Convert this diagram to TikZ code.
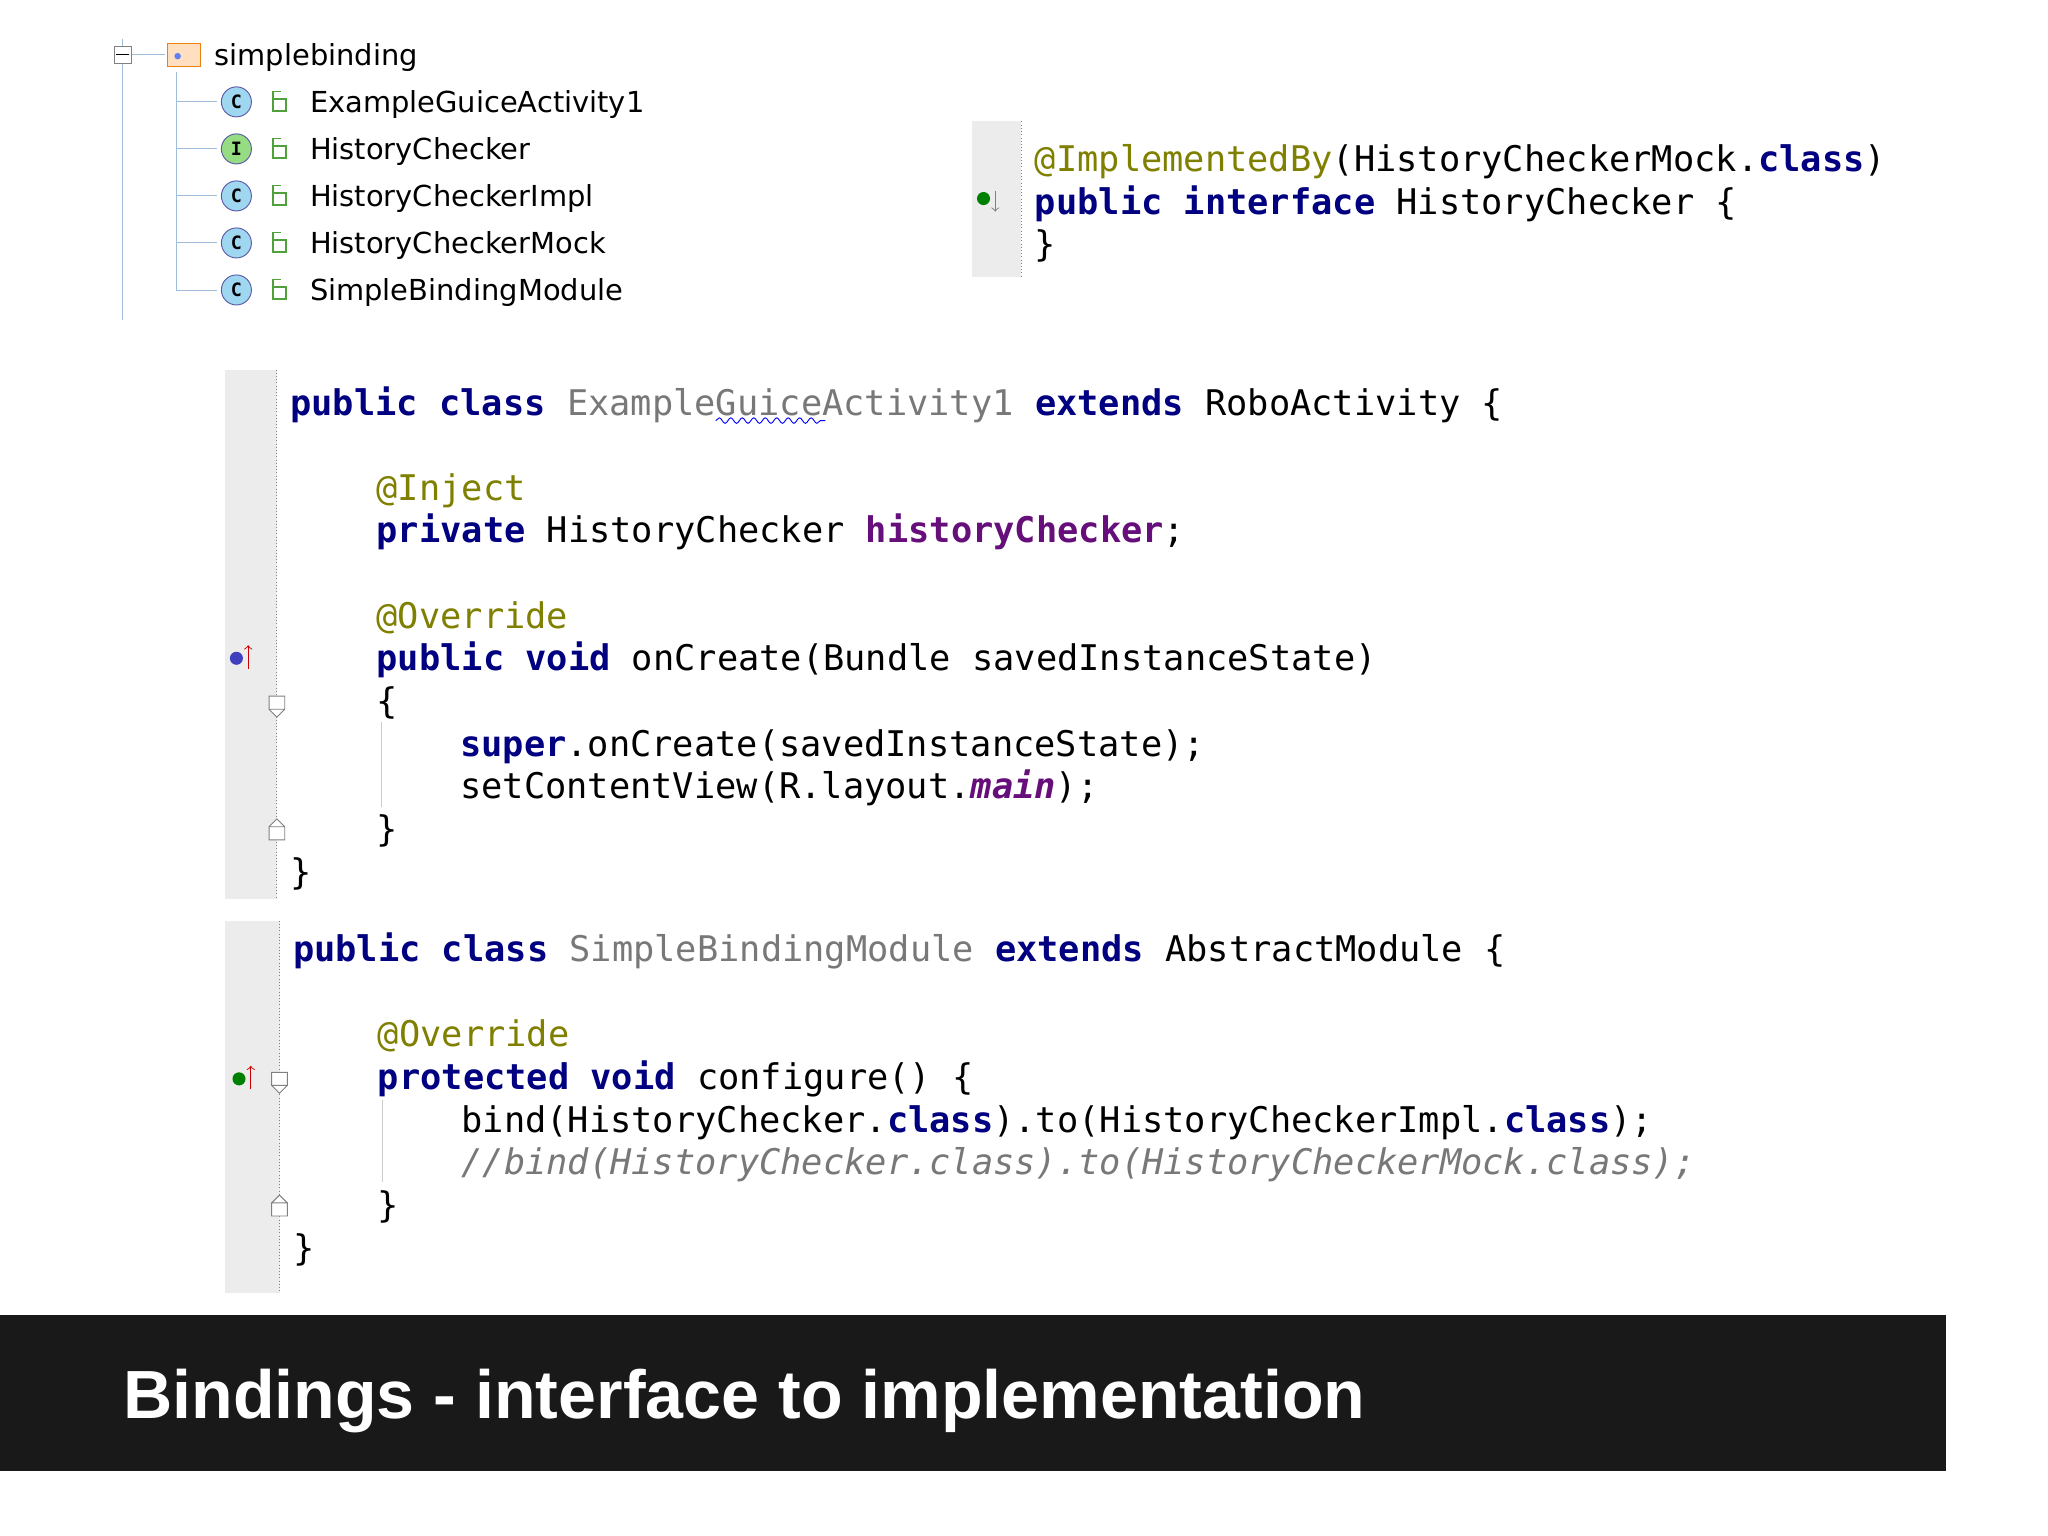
\documentclass[tikz,border=0pt]{standalone}
\usepackage{fontspec}
\setmainfont{DejaVu Sans}
\setmonofont{DejaVu Sans Mono}
\newfontfamily\titlefont{Liberation Sans}
\usetikzlibrary{decorations.pathmorphing}
\definecolor{kw}{RGB}{0,0,128}
\definecolor{ann}{RGB}{128,128,0}
\definecolor{cls}{RGB}{120,120,120}
\definecolor{fld}{RGB}{102,14,122}
\definecolor{gut}{RGB}{236,236,236}
\definecolor{cblue}{RGB}{160,215,240}
\definecolor{igreen}{RGB}{150,220,130}
\definecolor{lockg}{RGB}{80,160,60}
\definecolor{treel}{RGB}{160,190,220}
\newcommand{\K}[1]{\textcolor{kw}{\bfseries #1}}
\newcommand{\A}[1]{\textcolor{ann}{#1}}
\tikzset{
 code/.style={anchor=base west,inner sep=0,font=\fontsize{15.4}{18}\ttfamily},
 tree/.style={anchor=base west,inner sep=0,font=\fontsize{12.6}{15}\selectfont},
 gutter/.style={fill=gut,draw=none},
 ico/.style={circle,draw=gray!70!blue,fill=cblue,minimum size=0.46cm,inner sep=0,font=\fontsize{8}{9}\bfseries\ttfamily},
 fold/.style={draw=gray,fill=white,thin}
}
\begin{document}
\begin{tikzpicture}[x=0.02cm,y=-0.02cm]
\useasboundingbox (0,0) rectangle (1568,1176);
\fill[white] (0,0) rectangle (1568,1176);
% tree
\draw[treel] (94,30) -- (94,245) (135,55) -- (135,222);
\node[draw=gray,fill=white,minimum size=0.26cm,inner sep=0] (minus) at (94,42) {};
\draw (89,42) -- (99,42);
\draw[treel] (minus.east) -- (126,42);
\node[draw=orange!70!brown,fill=orange!25,minimum width=0.5cm,minimum height=0.36cm,inner sep=0] (fold0) at (141,42) {};
\fill[cblue!60!blue] (136,43) circle (2.5);
\node[tree] (t0) at (164,50) {simplebinding};
\foreach \y/\l/\n/\c in {78/C/ExampleGuiceActivity1/cblue,114/I/HistoryChecker/igreen,150/C/HistoryCheckerImpl/cblue,186/C/HistoryCheckerMock/cblue,222/C/SimpleBindingModule/cblue}{
 \draw[treel] (135,\y) -- (166,\y);
 \node[ico,fill=\c] at (181,\y) {\l};
 \draw[lockg,thick] (209,\y-2) rectangle (219,\y+7);
 \draw[lockg,thick] (209,\y-2) -- (209,\y-8) -- (215,\y-8);
 \node[tree] at (237,\y+8) {\n};
}
% top-right
\fill[gutter] (744,93) rectangle (782,212);
\draw[gray,densely dotted] (782,93) -- (782,212);
\fill[green!50!black] (753,152) circle (5);
\draw[gray,->] (762,146) -- (762,162);
\node[code] (h1) at (792,131) {\A{@ImplementedBy}(HistoryCheckerMock.\K{class})};
\node[code] (h2) at (792,164) {\K{public} \K{interface} HistoryChecker \{};
\node[code] (h3) at (792,196) {\}};
% block 2
\fill[gutter] (172,283) rectangle (212,688);
\draw[gray,densely dotted] (212,283) -- (212,688);
\fill[blue!50!gray] (181,504) circle (5);
\draw[red!80!black,->] (190,512) -- (190,494);
\draw[fold] (206,533) rectangle (218,543) (206,543) -- (212,549) -- (218,543);
\draw[fold] (206,643) rectangle (218,633) (206,633) -- (212,627) -- (218,633);
\node[code] (a1) at (222,318) {\K{public} \K{class} \textcolor{cls}{ExampleGuiceActivity1} \K{extends} RoboActivity \{};
\draw[blue,decorate,decoration={snake,amplitude=1.2,segment length=5}] (548,322) -- (632,322);
\node[code] (a2) at (288,383) {\A{@Inject}};
\node[code] (a3) at (288,415) {\K{private} HistoryChecker \textcolor{fld}{\bfseries historyChecker};};
\node[code] (a4) at (288,481) {\A{@Override}};
\node[code] (a5) at (288,513) {\K{public} \K{void} onCreate(Bundle savedInstanceState)};
\node[code] (a6) at (288,546) {\{};
\draw[gray!40] (292,553) -- (292,618);
\node[code] (a7) at (352,579) {\K{super}.onCreate(savedInstanceState);};
\node[code] (a8) at (352,611) {setContentView(R.layout.\textcolor{fld}{\bfseries\itshape main});};
\node[code] (a9) at (288,644) {\}};
\node[code] (a10) at (222,677) {\}};
% block 3
\fill[gutter] (172,705) rectangle (214,990);
\draw[gray,densely dotted] (214,705) -- (214,990);
\fill[green!50!black] (183,826) circle (5);
\draw[red!80!black,->] (192,834) -- (192,816);
\draw[fold] (208,821) rectangle (220,831) (208,831) -- (214,837) -- (220,831);
\draw[fold] (208,931) rectangle (220,921) (208,921) -- (214,915) -- (220,921);
\node[code] (b1) at (224,736) {\K{public} \K{class} \textcolor{cls}{SimpleBindingModule} \K{extends} AbstractModule \{};
\node[code] (b2) at (289,801) {\A{@Override}};
\node[code] (b3) at (289,834) {\K{protected} \K{void} configure() \{};
\draw[gray!40] (293,842) -- (293,905);
\node[code] (b4) at (353,867) {bind(HistoryChecker.\K{class}).to(HistoryCheckerImpl.\K{class});};
\node[code] (b5) at (353,899) {\textcolor{cls}{\itshape //bind(HistoryChecker.class).to(HistoryCheckerMock.class);}};
\node[code] (b6) at (289,932) {\}};
\node[code] (b7) at (224,965) {\}};
% title bar
\fill[black!90] (0,1007) rectangle (1490,1126);
\node[anchor=base west,inner sep=0,text=white,font=\titlefont\bfseries\fontsize{29.7}{34}\selectfont] (title) at (94,1086) {Bindings - interface to implementation};
\end{tikzpicture}
\end{document}
